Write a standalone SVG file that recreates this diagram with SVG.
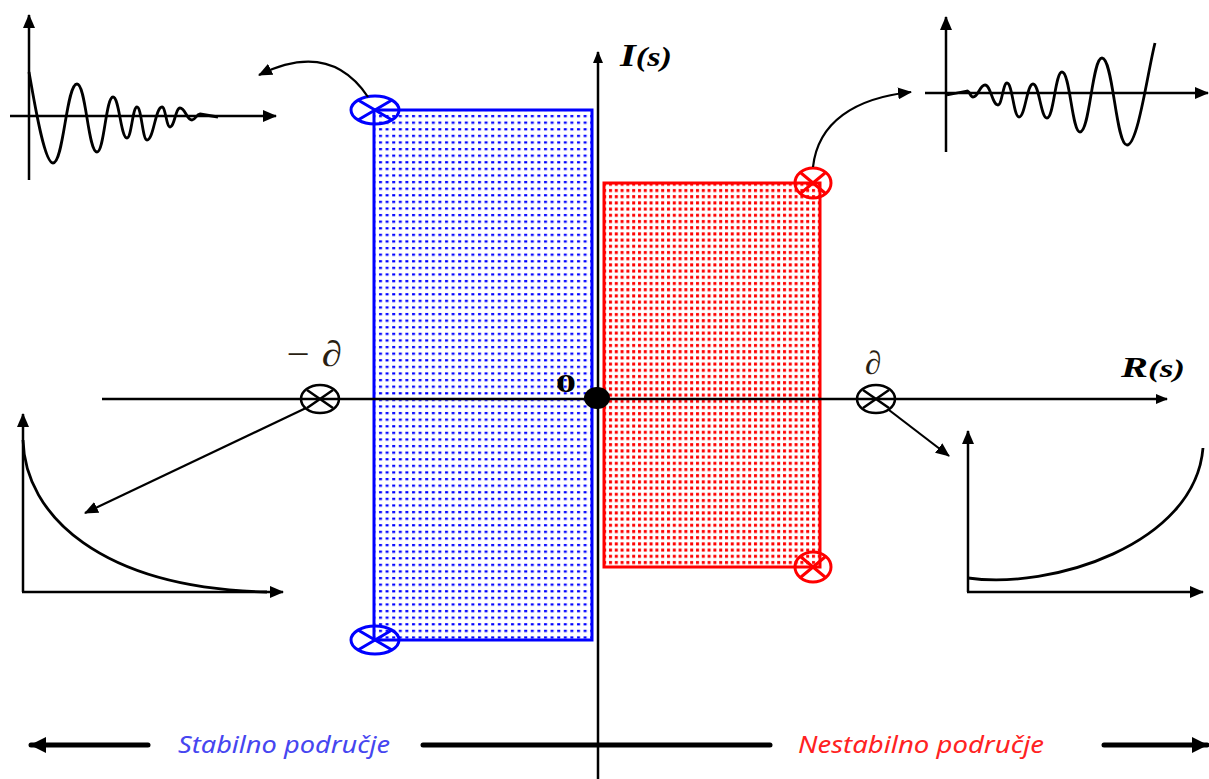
<svg xmlns="http://www.w3.org/2000/svg" width="1209" height="779" viewBox="0 0 1209 779">
<style>
.ax{stroke:#000;stroke-width:2.5;fill:none}
.wave{stroke:#000;stroke-width:2.8;fill:none;stroke-linejoin:round}
.conn{stroke:#000;stroke-width:2.2;fill:none}
.bpole{stroke:#0000ff;stroke-width:3;fill:none}
.rpole{stroke:#ff0000;stroke-width:3;fill:none}
.kpole{stroke:#000;stroke-width:2.5;fill:none}
.serif{font-family:"Liberation Serif","DejaVu Serif",serif}
.lbl{font-family:"Noto Sans","Liberation Sans",sans-serif;font-style:italic;font-size:23px}
</style>
<defs>
<marker id="ah" markerUnits="userSpaceOnUse" markerWidth="14" markerHeight="12" refX="13" refY="6" orient="auto">
<path d="M0,0 L14,6 L0,12 Z" fill="#000"/>
</marker>
<marker id="ahs" markerUnits="userSpaceOnUse" markerWidth="12" markerHeight="10" refX="11" refY="5" orient="auto">
<path d="M0,0 L12,5 L0,10 Z" fill="#000"/>
</marker>
<marker id="ahb" markerUnits="userSpaceOnUse" markerWidth="16" markerHeight="16" refX="15" refY="8" orient="auto">
<path d="M0,0 L16,8 L0,16 Z" fill="#000"/>
</marker>
<pattern id="bdots" patternUnits="userSpaceOnUse" x="378" y="114" width="6.6" height="6.6">
<rect x="1" y="1" width="3" height="2.2" fill="#0000ff"/>
</pattern>
<pattern id="rdots" patternUnits="userSpaceOnUse" x="608" y="188" width="5.8" height="6.2">
<rect x="1" y="1" width="3" height="3" fill="#ff0000"/>
</pattern>
</defs>

<g id="stable-region">
<rect x="374" y="110" width="218" height="530" fill="url(#bdots)" stroke="#0000ff" stroke-width="3"/>
</g>
<g id="unstable-region">
<rect x="604" y="183" width="216" height="384" fill="url(#rdots)" stroke="#ff0000" stroke-width="3"/>
</g>

<g id="axes">
<line x1="102" y1="399" x2="1167" y2="399" class="ax" stroke-width="2" marker-end="url(#ahs)"/>
<line x1="598" y1="779" x2="598" y2="52" class="ax" stroke-width="2.5" marker-end="url(#ahs)"/>
<text x="620" y="66" class="serif" style="font-size:32px;font-weight:bold;font-style:italic" textLength="52" lengthAdjust="spacingAndGlyphs">I<tspan style="font-size:27px">(s)</tspan></text>
<text x="1121" y="377" class="serif" style="font-size:30px;font-weight:bold;font-style:italic" textLength="64" lengthAdjust="spacingAndGlyphs">R<tspan style="font-size:26px">(s)</tspan></text>
<text x="556" y="392" class="serif" style="font-size:26px;font-weight:bold" textLength="20" lengthAdjust="spacingAndGlyphs">0</text>
<ellipse cx="597" cy="398" rx="13" ry="11" fill="#000"/>
</g>

<g id="pole-blue-top">
<ellipse cx="375" cy="110" rx="24" ry="14" class="bpole"/>
<path d="M358,100 L392,120 M358,120 L392,100" class="bpole"/>
</g>
<g id="pole-blue-bottom">
<ellipse cx="375" cy="640" rx="24" ry="14" class="bpole"/>
<path d="M358,630 L392,650 M358,650 L392,630" class="bpole"/>
</g>
<g id="pole-red-top">
<ellipse cx="813" cy="183" rx="18" ry="15" class="rpole"/>
<path d="M801,173 L825,193 M801,193 L825,173" class="rpole"/>
</g>
<g id="pole-red-bottom">
<ellipse cx="813" cy="567" rx="18" ry="15" class="rpole"/>
<path d="M801,557 L825,577 M801,577 L825,557" class="rpole"/>
</g>
<g id="pole-neg-real">
<ellipse cx="320" cy="399" rx="19" ry="14" class="kpole"/>
<path d="M307,390 L333,408 M307,408 L333,390" class="kpole"/>
<text x="284" y="366" class="serif" style="font-size:36px;font-style:italic" fill="#2a1e12" textLength="58" lengthAdjust="spacingAndGlyphs">− ∂</text>
</g>
<g id="pole-pos-real">
<ellipse cx="876" cy="399" rx="19" ry="14" class="kpole"/>
<path d="M863,390 L889,408 M863,408 L889,390" class="kpole"/>
<text x="865" y="374" class="serif" style="font-size:33px;font-style:italic" fill="#2a1e12">∂</text>
</g>

<g id="plot-damped-oscillation">
<line x1="29" y1="180" x2="29" y2="15" class="ax" marker-end="url(#ah)"/>
<line x1="10" y1="116" x2="276" y2="116" class="ax" marker-end="url(#ah)"/>
<path class="wave" d="M29,72 C34,100 44,163 53,163 C63.8,163 66.2,84 77,84 C86,84 88,152 97,152 C104.2,152 105.8,97 113,97 C119.3,97 120.7,138 127,138 C131.5,138 132.5,107 137,107 C141.5,107 142.5,140 147,140 C153.75,140 155.25,107 162,107 C165.6,107 166.4,127 170,127 C174.5,127 175.5,108 180,108 C185.4,108 186.6,120 192,120 C195.6,120 196.4,114 200,114 L218,117"/>
</g>
<g id="plot-growing-oscillation">
<line x1="946" y1="152" x2="946" y2="17" class="ax" marker-end="url(#ah)"/>
<line x1="925" y1="93" x2="1208" y2="93" class="ax" marker-end="url(#ah)"/>
<path class="wave" d="M947,95 L967,91 C969.7,91 970.3,97 973,97 C978.4,97 979.6,85 985,85 C990.85,85 992.15,105 998,105 C1002,105 1003,83 1007,83 C1012.4,83 1013.6,117 1019,117 C1025.3,117 1026.7,84 1033,84 C1039.3,84 1040.7,118 1047,118 C1053.75,118 1055.25,72 1062,72 C1070.1,72 1071.9,132 1080,132 C1089.9,132 1092.1,58 1102,58 C1113.25,58 1115.75,145 1127,145 C1138,145 1148,70 1155,43"/>
</g>
<g id="plot-decay">
<line x1="23" y1="592" x2="23" y2="414" class="ax" marker-end="url(#ah)"/>
<line x1="22" y1="592" x2="283" y2="592" class="ax" marker-end="url(#ah)"/>
<path class="wave" d="M23,440 C25,515 100,588 267,592"/>
</g>
<g id="plot-growth">
<line x1="968" y1="592" x2="968" y2="431" class="ax" marker-end="url(#ah)"/>
<line x1="967" y1="592" x2="1203" y2="592" class="ax" marker-end="url(#ah)"/>
<path class="wave" d="M968,578 C1050,590 1195,545 1203,448"/>
</g>

<g id="connectors">
<path class="conn" d="M368,97 Q330,40 259,75" marker-end="url(#ah)"/>
<path class="conn" d="M813,167 C818,122 855,98 911,92" marker-end="url(#ah)"/>
<line class="conn" x1="306" y1="408" x2="85" y2="513" marker-end="url(#ah)"/>
<line class="conn" x1="889" y1="410" x2="949" y2="456" marker-end="url(#ah)"/>
</g>

<g id="region-labels">
<line x1="148" y1="745" x2="31" y2="745" stroke="#000" stroke-width="5" stroke-linecap="round" marker-end="url(#ahb)"/>
<line x1="423" y1="745" x2="770" y2="745" stroke="#000" stroke-width="5" stroke-linecap="round"/>
<line x1="1104" y1="745" x2="1207" y2="745" stroke="#000" stroke-width="5" stroke-linecap="round" marker-end="url(#ahb)"/>
<text x="178" y="753" class="lbl" fill="#4646f0" textLength="212" lengthAdjust="spacingAndGlyphs">Stabilno područje</text>
<text x="798" y="753" class="lbl" fill="#ff2222" textLength="246" lengthAdjust="spacingAndGlyphs">Nestabilno područje</text>
</g>
</svg>
